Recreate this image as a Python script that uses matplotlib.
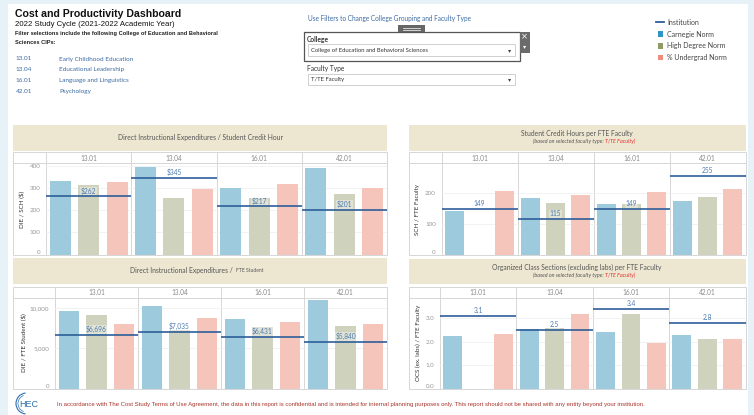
import matplotlib
matplotlib.use('Agg')
import matplotlib.pyplot as plt
from matplotlib.patches import Rectangle, Arc
import numpy as np

W, H = 754, 415

# ---- data ----
cips = ['13.01', '13.04', '16.01', '42.01']
cip_names = ['Early Childhood Education', 'Educational Leadership',
             'Language and Linguistics', 'Psychology']
series = ['Carnegie Norm', 'High Degree Norm', '% Undergrad Norm']

die_sch_carnegie = [329, 392, 299, 389]
die_sch_high = [312, 253, 256, 271]
die_sch_ugrad = [325, 296, 317, 300]
die_sch_inst = [262, 345, 217, 201]

sch_fte_carnegie = [142, 183, 164, 175]
sch_fte_high = [np.nan, 169, 164, 188]
sch_fte_ugrad = [205, 194, 202, 214]
sch_fte_inst = [149, 115, 149, 255]

die_fte_carnegie = [9620, 10253, 8692, 11013]
die_fte_high = [9156, 7342, 7722, 7848]
die_fte_ugrad = [8101, 8734, 8354, 8017]
die_fte_inst = [6696, 7035, 6431, 5840]

ocs_carnegie = [2.23, 2.52, 2.40, 2.27]
ocs_high = [np.nan, 2.58, 3.16, 2.11]
ocs_ugrad = [2.33, 3.19, 1.95, 2.11]
ocs_inst = [3.1, 2.5, 3.4, 2.8]

# colours
bar_colors = ['#9ecadd', '#cfd3bd', '#f5c5bb']
legend_colors = ['#2f95c6', '#8e9c62', '#ef8c7c']
line_c = '#2d5e99'
lab_c = '#4d7bb1'
border_c = '#d6d6d6'
beige = '#ede7d2'
tab_font = 'Lato'
arial = 'Liberation Sans'

fig = plt.figure(figsize=(W / 100, H / 100), dpi=100, facecolor='#e7f1f8')

# overlay in pixel coordinates for all the dashboard furniture
ov = fig.add_axes([0, 0, 1, 1])
ov.set_xlim(0, W)
ov.set_ylim(H, 0)
ov.axis('off')
ov.set_zorder(0)
ov.add_patch(Rectangle((8, 4), 740, H - 4, fc='white', ec='none'))


def px_rect(x0, y0, x1, y1):
    return [x0 / W, 1 - y1 / H, (x1 - x0) / W, (y1 - y0) / H]


# ---- top left text ----
ov.text(15, 14, 'Cost and Productivity Dashboard', fontsize=7.6, fontweight='bold',
        family=arial, color='#111', va='center')
ov.text(15, 25, '2022 Study Cycle (2021-2022 Academic Year)', fontsize=5.6,
        family=arial, color='#111', va='center')
ov.text(15, 34, 'Filter selections include the following College of Education and Behavioral',
        fontsize=4.1, fontweight='bold', family=arial, color='#222', va='center')
ov.text(15, 42, 'Sciences CIPs:', fontsize=4.1, fontweight='bold', family=arial,
        color='#222', va='center')
for i, (c, nm) in enumerate(zip(cips, cip_names)):
    y = 59 + i * 10.8
    ov.text(16, y, c, fontsize=4.6, family=tab_font, color='#3b6aa3', va='center')
    ov.text(59, y, nm, fontsize=4.6, family=tab_font, color='#3b6aa3', va='center')

# ---- filter widgets ----
ov.text(308, 18.5, 'Use Filters to Change College Grouping and Faculty Type', fontsize=4.7,
        family=tab_font, color='#3b6aa3', va='center')
ov.add_patch(Rectangle((303.5, 32), 216, 29, fc='white', ec='#555', lw=0.9))
ov.add_patch(Rectangle((398, 25.5), 27, 6.5, fc='#666', ec='none'))
ov.plot([403, 420], [27.8, 27.8], color='white', lw=0.5)
ov.plot([403, 420], [29.8, 29.8], color='white', lw=0.5)
ov.add_patch(Rectangle((519.5, 32), 10, 21, fc='#6b6b6b', ec='none'))
ov.text(524.5, 37, '\u00d7', fontsize=6, color='white', ha='center', va='center')
ov.text(524.5, 47, '\u25be', fontsize=4.5, color='white', ha='center', va='center')
ov.text(307, 39.5, 'College', fontsize=4.8, fontweight='bold', family=tab_font,
        color='#333', va='center')
ov.add_patch(Rectangle((308, 44.5), 207, 11.5, fc='white', ec='#c8c8c8', lw=0.6))
ov.text(311, 50.3, 'College of Education and Behavioral Sciences', fontsize=4.2,
        family=tab_font, color='#333', va='center')
ov.text(510, 50.5, '\u25be', fontsize=4.5, color='#444', ha='center', va='center')
ov.text(307, 68.5, 'Faculty Type', fontsize=4.8, family=tab_font, color='#333', va='center')
ov.add_patch(Rectangle((308, 74), 207, 11.5, fc='white', ec='#c8c8c8', lw=0.6))
ov.text(311, 79.8, 'T/TE Faculty', fontsize=4.2, family=tab_font, color='#333', va='center')
ov.text(510, 80, '\u25be', fontsize=4.5, color='#444', ha='center', va='center')

# ---- legend ----
ov.plot([656, 664], [22.5, 22.5], color=line_c, lw=1.3)
ov.text(667, 22.5, 'Institution', fontsize=5.0, family=tab_font, color='#444', va='center')
for i, (s, col) in enumerate(zip(series, legend_colors)):
    y = 34 + i * 11.8
    ov.add_patch(Rectangle((657.5, y - 2.7), 5.5, 5.5, fc=col, ec='none'))
    ov.text(667, y, s, fontsize=5.0, family=tab_font, color='#444', va='center')


def header(x0, x1, y0, y1, title, sub=None):
    ov.add_patch(Rectangle((x0, y0), x1 - x0, y1 - y0, fc=beige, ec='none'))
    cx = (x0 + x1) / 2
    if sub is None:
        ov.text(cx, (y0 + y1) / 2, title, fontsize=4.9, family=tab_font, color='#555',
                ha='center', va='center')
    else:
        ov.text(cx, y0 + 8.5, title, fontsize=4.9, family=tab_font, color='#555',
                ha='center', va='center')
        split = cx + 28
        ov.text(split, y0 + 16.5, '(based on selected faculty type: ', fontsize=3.9,
                family=tab_font, style='italic', color='#555', ha='right', va='center')
        ov.text(split, y0 + 16.5, sub + ')', fontsize=3.9, family=tab_font,
                style='italic', color='#e0302a', ha='left', va='center')


def panel(box, vals, inst, labels, ymax, yticks, yticklabels, ylabel, ylabel_x):
    x0, xa, x1, yc0, yc1, yb = box
    n = len(cips)
    ov.add_patch(Rectangle((x0, yc0), x1 - x0, yb - yc0, fill=False, ec=border_c, lw=0.7))
    ov.plot([x0, x1], [yc1, yc1], color=border_c, lw=0.7)
    ov.plot([xa, xa], [yc0, yb], color=border_c, lw=0.7)
    pw = (x1 - xa) / n
    for g, c in enumerate(cips):
        ov.text(xa + pw * (g + 0.5), (yc0 + yc1) / 2 + 0.3, c, fontsize=4.7, family=tab_font,
                color='#888', ha='center', va='center')
        if g:
            ov.plot([xa + pw * g] * 2, [yc0, yc1], color=border_c, lw=0.7)

    ax = fig.add_axes(px_rect(xa, yc1, x1, yb))
    ax.set_zorder(2)
    ax.patch.set_alpha(0)
    xs = np.arange(n) * 3
    for s, (v, col) in enumerate(zip(vals, bar_colors)):
        ax.bar(xs + s, v, width=0.74, color=col, zorder=2)
    for g in range(n):
        ax.hlines(inst[g], g * 3 - 0.5, g * 3 + 2.5, color=line_c, lw=1.2, zorder=3)
        ax.annotate(labels[g], (g * 3 + 1, inst[g]), xytext=(0, 1.2), textcoords='offset points',
                    ha='center', va='bottom', fontsize=4.8, family=tab_font, color=lab_c,
                    zorder=4, bbox=dict(boxstyle='square,pad=0.1', fc='white', ec='none', alpha=0.35))
        if g:
            ax.axvline(g * 3 - 0.5, color=border_c, lw=0.7, zorder=1)
    ax.set_xlim(-0.5, n * 3 - 0.5)
    ax.set_ylim(0, ymax)
    ax.set_xticks([])
    ax.set_yticks(yticks)
    ax.set_yticklabels(yticklabels, fontsize=4.5, family=tab_font, color='#999')
    ax.get_yticklabels()[0].set_va('bottom')
    ax.tick_params(axis='y', length=0, pad=4)
    ax.grid(axis='y', color='#f0f0f0', lw=0.6, zorder=0)
    for sp in ax.spines.values():
        sp.set_visible(False)
    ov.text(ylabel_x, (yc1 + yb) / 2, ylabel, rotation=90, fontsize=4.5, family=tab_font,
            color='#333', ha='center', va='center')
    return ax


# panel 1
header(13, 387, 125, 150.5, 'Direct Instructional Expenditures / Student Credit Hour')
panel((13, 46, 387, 152, 163.5, 254.5),
      [die_sch_carnegie, die_sch_high, die_sch_ugrad], die_sch_inst,
      ['$%d' % v for v in die_sch_inst], 410,
      [0, 100, 200, 300, 400], ['0', '100', '200', '300', '400'], 'DIE / SCH ($)', 21.5)

# panel 2
header(409, 745.5, 125, 151, 'Student Credit Hours per FTE Faculty', 'T/TE Faculty')
panel((409, 441.5, 745.5, 152, 163.5, 254.5),
      [sch_fte_carnegie, sch_fte_high, sch_fte_ugrad], sch_fte_inst,
      ['%d' % v for v in sch_fte_inst], 296,
      [0, 100, 200], ['0', '100', '200'], 'SCH / FTE Faculty', 418)

# panel 3
ov.add_patch(Rectangle((13, 258), 374, 25.5, fc=beige, ec='none'))
ov.text(235, 270.5, 'Direct Instructional Expenditures / ', fontsize=4.9, family=tab_font,
        color='#555', ha='right', va='center')
ov.text(235.5, 270.5, 'FTE Student', fontsize=3.6, family=tab_font, color='#555',
        ha='left', va='center')
panel((13, 55, 387, 286.5, 297.5, 388.5),
      [die_fte_carnegie, die_fte_high, die_fte_ugrad], die_fte_inst,
      ['${:,}'.format(v) for v in die_fte_inst], 11350,
      [0, 5000, 10000], ['0', '5,000', '10,000'], 'DIE / FTE Student ($)', 23)

# panel 4
header(409, 745.5, 258.5, 284, 'Organized Class Sections (excluding labs) per FTE Faculty',
       'T/TE Faculty')
panel((409, 440, 745.5, 286.5, 297.5, 388.5),
      [ocs_carnegie, ocs_high, ocs_ugrad], ocs_inst,
      ['%.1f' % v for v in ocs_inst], 3.88,
      [0, 1, 2, 3], ['0.0', '1.0', '2.0', '3.0'], 'OCS (ex. labs) / FTE Faculty', 418)

# ---- footer ----
ov.add_patch(Arc((26.5, 403.5), 21, 21, theta1=95, theta2=265, color='#2a6fb0', lw=0.8))
ov.add_patch(Arc((26.5, 403.5), 17, 17, theta1=110, theta2=250, color='#2a6fb0', lw=0.5))
ov.text(28.5, 404, 'HEC', fontsize=6.5, family=arial, color='#2a6fb0', ha='center', va='center')
ov.text(57, 404.5, 'In accordance with The Cost Study Terms of Use Agreement, the data in this report '
        'is confidential and is intended for internal planning purposes only. This report should '
        'not be shared with any entity beyond your institution.',
        fontsize=4.3, family=arial, color='#a8342c', va='center')

fig.savefig('out.png', dpi=100, facecolor=fig.get_facecolor())
